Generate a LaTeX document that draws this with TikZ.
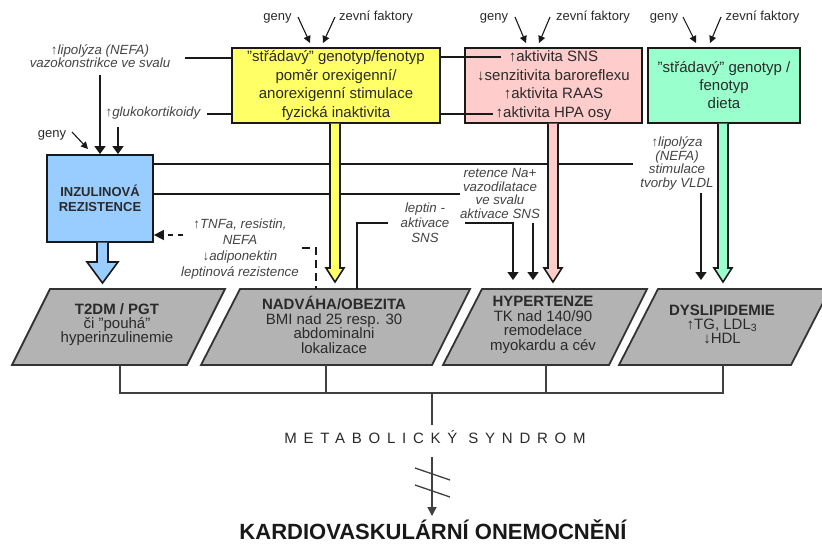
\documentclass[tikz,border=0pt]{standalone}
\usepackage{fontspec}
\setmainfont{Liberation Sans}
\usetikzlibrary{arrows.meta}
\definecolor{yel}{HTML}{FFFF66}
\definecolor{pnk}{HTML}{FFCCCC}
\definecolor{grn}{HTML}{99FFCC}
\definecolor{blu}{HTML}{99CCFF}
\definecolor{gry}{HTML}{B3B3B3}
\definecolor{txt}{HTML}{2A2A2A}
\definecolor{lbltxt}{HTML}{444444}
\begin{document}
\begin{tikzpicture}[x=1pt,y=-1pt,
  box/.style={draw=black!90, line width=1.8pt, inner sep=0pt, align=center, text=txt, font=\fontsize{15}{18.7}\selectfont},
  lbl/.style={inner sep=0pt, align=center, text=lbltxt, font=\fontsize{13.3}{13.7}\selectfont\itshape},
  gtxt/.style={inner sep=0pt, anchor=base, text=txt, font=\fontsize{13}{13}\selectfont},
  conn/.style={line width=1.5pt, draw=black!90},
  tip/.style={-{Triangle[width=11pt,length=8pt]}},
  stip/.style={-{Triangle[width=7pt,length=7pt]}},
  blk/.style={line width=1.6pt, draw=black!90, line join=miter},
  para/.style={fill=gry, draw=black!80, line width=1.8pt, line join=miter},
  ptxt/.style={inner sep=0pt, align=center, text=txt, font=\fontsize{15}{14.7}\selectfont},
  tree/.style={line width=1.3pt, draw=black!75}
]
\fill[white] (0,0) rectangle (822,544);
\useasboundingbox (0,0) rectangle (822,544);

% ---- top boxes
\node[box, fill=yel, minimum width=208, minimum height=75] (yellow) at (336,85.5)
  {"střádavý" genotyp/fenotyp\\poměr orexigenní/\\anorexigenní stimulace\\fyzická inaktivita};
\node[box, fill=pnk, minimum width=177, minimum height=75] (pink) at (553.5,85.5)
  {↑aktivita SNS\\↓senzitivita baroreflexu\\↑aktivita RAAS\\↑aktivita HPA osy};
\node[box, fill=grn, minimum width=152, minimum height=75, font=\fontsize{15}{18}\selectfont] (green) at (724,85.5)
  {"střádavý" genotyp /\\fenotyp\\dieta};
\node[box, fill=blu, minimum width=106, minimum height=87, font=\fontsize{13}{15}\selectfont\bfseries] (blue) at (100,198.5)
  {INZULINOVÁ\\REZISTENCE};

% ---- geny / zevni faktory
\node[gtxt] (gy) at (277.5,20) {geny};
\node[gtxt] (zy) at (376,20) {zevní faktory};
\node[gtxt] (gp) at (494,20) {geny};
\node[gtxt] (zp) at (593,20) {zevní faktory};
\node[gtxt] (gg) at (664,20) {geny};
\node[gtxt] (zg) at (762.5,20) {zevní faktory};
\node[gtxt] (gb) at (52,137) {geny};
\coordinate (gy1) at (298,17); \coordinate (gy2) at (310,43);
\coordinate (zy1) at (335,17); \coordinate (zy2) at (323,43);
\coordinate (gp1) at (515,17); \coordinate (gp2) at (526,43);
\coordinate (zp1) at (550,17); \coordinate (zp2) at (539,43);
\coordinate (gg1) at (683,17); \coordinate (gg2) at (696,43);
\coordinate (zg1) at (721,17); \coordinate (zg2) at (710,43);
\coordinate (gb1) at (72,132); \coordinate (gb2) at (88,149);
\foreach \a in {gy,zy,gp,zp,gg,zg,gb}
  \draw[conn, line width=1.1pt, stip] (\a1) -- (\a2);

% ---- left labels
\node[lbl, font=\fontsize{13.3}{13}\selectfont\itshape] (lipo) at (100,56) {↑lipolýza (NEFA)\\vazokonstrikce ve svalu};
\node[lbl, anchor=base] (gluko) at (153,116) {↑glukokortikoidy};
\coordinate (l1) at (185,58);
\coordinate (l2) at (207,114);
\draw[conn] (l1) -- (l1 -| yellow.west);
\draw[conn] (l2) -- (l2 -| yellow.west);
\coordinate (a1) at (100,75);
\coordinate (a2) at (118,127);
\draw[conn, tip] (a1) -- (a1 |- blue.north);
\draw[conn, tip] (a2) -- (a2 |- blue.north);

% ---- yellow to pink lines
\coordinate (y1) at (501,57);
\coordinate (y2) at (493,114);
\draw[conn] (y1 -| yellow.east) -- (y1);
\draw[conn] (y2 -| yellow.east) -- (y2);

% ---- middle labels
\node[lbl] (ret) at (500,193.5) {retence Na+\\vazodilatace\\ve svalu\\aktivace SNS};
\node[lbl, font=\fontsize{13.3}{15}\selectfont\itshape] (lep) at (425,223) {leptin -\\aktivace\\SNS};
\node[lbl] (glip) at (677,163.5) {↑lipolýza\\(NEFA)\\stimulace\\tvorby VLDL};
\node[lbl, font=\fontsize{13.3}{16}\selectfont\itshape] (tnf) at (240,249) {↑TNFa, resistin,\\NEFA\\↓adiponektin\\leptinová rezistence};

% ---- lines from blue box
\coordinate (b1) at (633,164);
\coordinate (b2) at (460,194);
\draw[conn] (b1 -| blue.east) -- (b1);
\draw[conn] (b2 -| blue.east) -- (b2);

% ---- parallelograms
\path[para] (50,289) -- (225,289) -- (187,365) -- (12,365) -- cycle;
\path[para] (240,289) -- (470,289) -- (432,365) -- (201,365) -- cycle;
\path[para] (482,289) -- (647,289) -- (609,365) -- (443,365) -- cycle;
\path[para] (658,289) -- (830,289) -- (791,365) -- (619,365) -- cycle;
\node[ptxt, font=\fontsize{15}{14}\selectfont] (t2dm) at (117,325) {{\bfseries T2DM / PGT}\\či "pouhá"\\hyperinzulinemie};
\node[ptxt] (obez) at (334,325) {{\bfseries NADVÁHA/OBEZITA}\\BMI nad 25 resp. 30\\abdominalni\\lokalizace};
\node[ptxt] (hyp) at (543,325) {{\bfseries HYPERTENZE}\\TK nad 140/90\\remodelace\\myokardu a cév};
\node[ptxt, font=\fontsize{15}{13.8}\selectfont] (dys) at (722,324.5) {{\bfseries DYSLIPIDEMIE}\\↑TG, LDL\textsubscript{3}\\↓HDL};

% ---- arrows into parallelograms
\coordinate (o1) at (357,289);
\coordinate (o2) at (357,223);
\coordinate (o3) at (388,223);
\draw[conn] (o1) -- (o2) -- (o3);
\coordinate (h1) at (465,223);
\coordinate (h2) at (513,223);
\coordinate (h3) at (513,280);
\draw[conn, tip] (h1) -- (h2) -- (h3);
\coordinate (r1) at (533,223);
\coordinate (r2) at (533,280);
\draw[conn, tip] (r1) -- (r2);
\coordinate (d1) at (701,193);
\coordinate (d2) at (701,280);
\draw[conn, tip] (d1) -- (d2);

% ---- dashed connections
\coordinate (t1) at (183,235);
\draw[conn, dash pattern=on 5pt off 5pt, -{Triangle[width=10pt,length=10pt]}] (t1) -- (t1 -| blue.east);
\coordinate (n1) at (302,248);
\coordinate (n2) at (316,248);
\coordinate (n3) at (316,289);
\draw[conn, dash pattern=on 8pt off 5pt] (n1) -- (n2) -- (n3);

% ---- block arrows
\filldraw[blk, fill=yel] (330,123.5) -- (330,268) -- (326,268) -- (335,282) -- (344,268) -- (340,268) -- (340,123.5);
\filldraw[blk, fill=pnk] (548,123.5) -- (548,268) -- (544,268) -- (553,282) -- (562,268) -- (558,268) -- (558,123.5);
\filldraw[blk, fill=grn] (718,123.5) -- (718,268) -- (714,268) -- (723,282) -- (732,268) -- (728,268) -- (728,123.5);
\filldraw[blk, fill=blu] (97,242.5) -- (97,262) -- (87,262) -- (102.5,283) -- (118,262) -- (108,262) -- (108,242.5);

% ---- bottom tree
\coordinate (p1) at (120,365); \coordinate (p2) at (326,365);
\coordinate (p3) at (546,365); \coordinate (p4) at (723,365);
\coordinate (hb) at (0,393);
\draw[tree] (p1) -- (p1 |- hb) -- (p4 |- hb) -- (p4);
\draw[tree] (p2) -- (p2 |- hb);
\draw[tree] (p3) -- (p3 |- hb);
\node[inner sep=0pt, anchor=base, text=txt, font=\fontsize{15}{15}\selectfont\addfontfeature{LetterSpace=45}] (ms) at (435,443) {METABOLICKÝ SYNDROM};
\node[inner sep=0pt, anchor=base, text=black!90, font=\fontsize{22}{22}\selectfont\bfseries] (kv) at (433,539) {KARDIOVASKULÁRNÍ ONEMOCNĚNÍ};
\coordinate (m0) at (432,393);
\coordinate (m1) at (432,425);
\coordinate (m2) at (432,457);
\coordinate (m3) at (432,516);
\draw[tree] (m0) -- (m1);
\draw[tree, -{Triangle[width=9pt,length=9pt]}] (m2) -- (m3);
\coordinate (s1) at (415,468); \coordinate (s2) at (450,480);
\coordinate (s3) at (415,485); \coordinate (s4) at (450,497);
\draw[tree] (s1) -- (s2);
\draw[tree] (s3) -- (s4);
\end{tikzpicture}
\end{document}
